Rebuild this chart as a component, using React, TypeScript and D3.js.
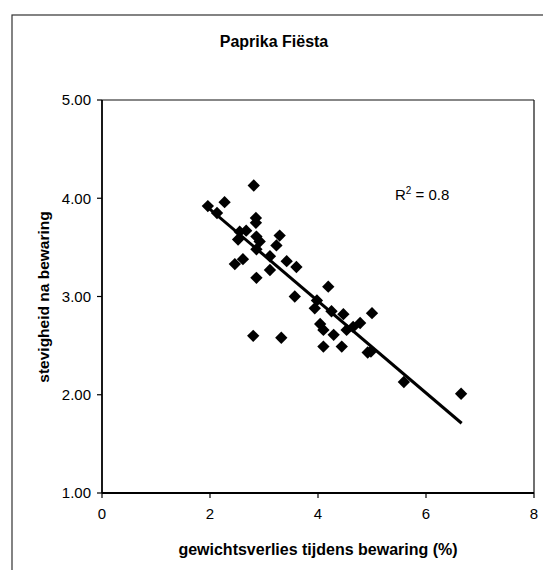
import React from "react";
import * as d3 from "d3";

const xValues = [1.96, 2.13, 2.27, 2.81, 2.85, 2.85, 2.55, 2.67, 2.52, 2.86, 2.92, 3.29, 3.23, 2.86, 3.11, 3.42, 3.6, 2.61, 2.46, 3.11, 2.86, 4.19, 3.57, 3.98, 3.94, 4.25, 4.47, 5.0, 4.04, 4.1, 4.29, 4.53, 4.78, 4.65, 2.8, 3.32, 4.1, 4.44, 4.92, 4.98, 5.59, 6.65];
const yValues = [3.92, 3.85, 3.96, 4.13, 3.8, 3.75, 3.66, 3.67, 3.58, 3.61, 3.56, 3.62, 3.52, 3.48, 3.41, 3.36, 3.3, 3.38, 3.33, 3.27, 3.19, 3.1, 3.0, 2.96, 2.88, 2.85, 2.82, 2.83, 2.72, 2.66, 2.61, 2.66, 2.73, 2.69, 2.6, 2.58, 2.49, 2.49, 2.43, 2.44, 2.13, 2.01];
const trendX = [1.91, 6.66];
const trendY = [3.93, 1.71];
const xTicks = [0, 2, 4, 6, 8];
const yTicks = [1, 2, 3, 4, 5];
const title = "Paprika Fiësta";
const xTitle = "gewichtsverlies tijdens bewaring (%)";
const yTitle = "stevigheid na bewaring";
const r2Label = "0.8";

export default function App() {
  const W = 543, H = 570;
  const left = 102, right = 534, top = 100, bottom = 493;
  const x = d3.scaleLinear().domain([0, 8]).range([left, right]);
  const y = d3.scaleLinear().domain([1, 5]).range([bottom, top]);
  const font = "'Liberation Sans', Arial, sans-serif";
  const diamond = d3.symbol().type(d3.symbolSquare).size(76)();
  const line = d3.line<number>().x((_, i) => x(trendX[i])).y((_, i) => y(trendY[i]));

  return (
    <svg width={W} height={H} style={{ position: "absolute", left: 0, top: 0, background: "#fff" }} fontFamily={font}>
      <rect x={12} y={15} width={600} height={600} fill="none" stroke="#333" strokeWidth={1.2} />
      <text x={274} y={47} textAnchor="middle" fontWeight="bold" fontSize={16}>{title}</text>
      <line x1={left} x2={right} y1={top} y2={top} stroke="#111" strokeWidth={1.2} />
      <line x1={right} x2={right} y1={top} y2={bottom} stroke="#111" strokeWidth={1.2} />
      <line x1={left} x2={left} y1={top} y2={bottom} stroke="#000" strokeWidth={1.8} />
      <line x1={left} x2={right} y1={bottom} y2={bottom} stroke="#000" strokeWidth={1.8} />
      {yTicks.map((t) => (
        <g key={"y" + t}>
          <line x1={left - 5} x2={left} y1={y(t)} y2={y(t)} stroke="#000" strokeWidth={1.2} />
          <text x={91} y={y(t)} dy="0.35em" textAnchor="end" fontSize={15}>{t.toFixed(2)}</text>
        </g>
      ))}
      {xTicks.map((t) => (
        <g key={"x" + t}>
          <line x1={x(t)} x2={x(t)} y1={bottom} y2={bottom + 5} stroke="#000" strokeWidth={1.2} />
          <text x={x(t)} y={519} textAnchor="middle" fontSize={15}>{t}</text>
        </g>
      ))}
      <text x={318} y={555} textAnchor="middle" fontWeight="bold" fontSize={16}>{xTitle}</text>
      <text transform={`translate(49,297) rotate(-90)`} textAnchor="middle" fontWeight="bold" fontSize={15.5}>{yTitle}</text>
      <path d={line(trendX) || ""} fill="none" stroke="#000" strokeWidth={3} />
      {xValues.map((v, i) => (
        <path key={i} d={diamond} transform={`translate(${x(v)},${y(yValues[i])}) rotate(45)`} fill="#000" />
      ))}
      <text x={395} y={200} fontSize={15}>
        R<tspan dy={-6} fontSize={10}>2</tspan><tspan dy={6}> = {r2Label}</tspan>
      </text>
    </svg>
  );
}
